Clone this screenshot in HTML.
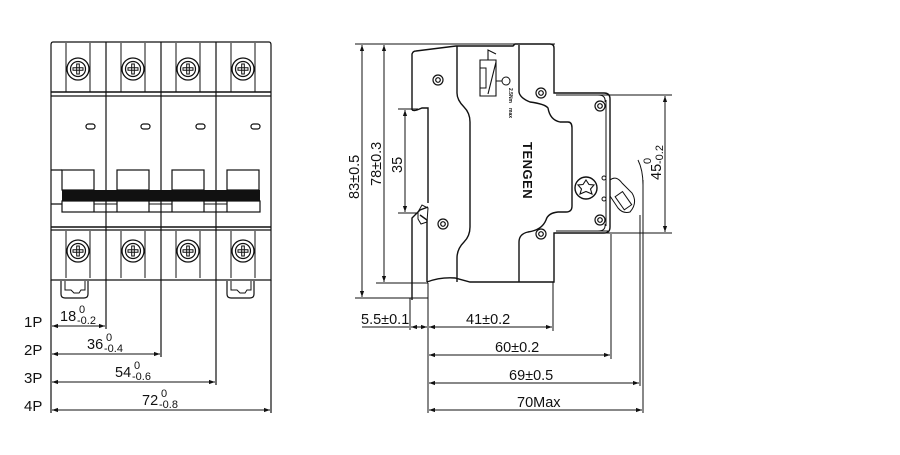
<!DOCTYPE html>
<html><head><meta charset="utf-8"><style>
html,body{margin:0;padding:0;background:#fff;width:900px;height:455px;overflow:hidden}
svg{display:block}
text{font-family:"Liberation Sans",Arial,sans-serif;fill:#111}
</style></head><body>
<svg width="900" height="455" viewBox="0 0 900 455" xmlns="http://www.w3.org/2000/svg">
<defs>
<marker id="a" viewBox="0 0 10 10" refX="10" refY="5" markerWidth="8" markerHeight="6" orient="auto-start-reverse" markerUnits="userSpaceOnUse"><path d="M0,1.5 L10,5 L0,8.5 z" fill="#111"/></marker>
<g id="scr"><circle r="11" fill="none" stroke="#111" stroke-width="1.3"/><circle r="7.5" fill="none" stroke="#111" stroke-width="1.2"/><path d="M-5,-1.3h10v2.6h-10z M-1.3,-5h2.6v10h-2.6z" fill="none" stroke="#111" stroke-width="1"/></g>
<g id="sm"><circle r="5" fill="none" stroke="#111" stroke-width="1.2"/><circle r="2.3" fill="none" stroke="#111" stroke-width="1.2"/></g>
</defs>
<g stroke="#111" fill="none" stroke-width="1.2">
<path d="M53,42 H269 Q271,42 271,45 V280 H51 V45 Q51,42 53,42 Z"/>
<line x1="51" y1="92" x2="271" y2="92" stroke-width="1.5"/>
<line x1="51" y1="96" x2="271" y2="96"/>
<line x1="51" y1="227" x2="271" y2="227" stroke-width="1.5"/>
<line x1="51" y1="230" x2="271" y2="230"/>
<line x1="106" y1="42" x2="106" y2="329"/>
<line x1="161" y1="42" x2="161" y2="357"/>
<line x1="216" y1="42" x2="216" y2="385"/>
<line x1="271" y1="280" x2="271" y2="413"/>
<line x1="51" y1="280" x2="51" y2="413"/>
<g stroke-width="1">
<path d="M66,43 V92 M90,43 V92 M121,43 V92 M145,43 V92 M176,43 V92 M200,43 V92 M231,43 V92 M255,43 V92"/>
<path d="M66,231 V278 M90,231 V278 M121,231 V278 M145,231 V278 M176,231 V278 M200,231 V278 M231,231 V278 M255,231 V278"/>
</g>
<rect x="86" y="124" width="9" height="5" rx="2.5"/>
<rect x="141" y="124" width="9" height="5" rx="2.5"/>
<rect x="196" y="124" width="9" height="5" rx="2.5"/>
<rect x="251" y="124" width="9" height="5" rx="2.5"/>
<path d="M51,170 H62 M51,204 H62"/>
<rect x="62" y="170" width="32" height="20"/>
<rect x="117" y="170" width="32" height="20"/>
<rect x="172" y="170" width="32" height="20"/>
<rect x="227" y="170" width="32" height="20"/>
<rect x="62" y="201" width="198" height="11"/>
<path d="M94,201 V212 M117,201 V212 M149,201 V212 M172,201 V212 M204,201 V212 M227,201 V212"/>
<path d="M94,204 H117 M149,204 H172 M204,204 H227" stroke-width="1"/>
<path d="M61,281 V294 Q61,298 65,298 H84 Q88,298 88,294 V281"/>
<path d="M65,281 V290 H71 L74,293 H79 L81,290 H85 V281" stroke-width="1"/>
<path d="M227,281 V294 Q227,298 231,298 H250 Q254,298 254,294 V281"/>
<path d="M231,281 V290 H237 L240,293 H245 L247,290 H251 V281" stroke-width="1"/>
</g>
<rect x="62" y="190" width="198" height="11" fill="#111"/>
<use href="#scr" x="78" y="69"/><use href="#scr" x="133" y="69"/><use href="#scr" x="188" y="69"/><use href="#scr" x="243" y="69"/>
<use href="#scr" x="78" y="251"/><use href="#scr" x="133" y="251"/><use href="#scr" x="188" y="251"/><use href="#scr" x="243" y="251"/>

<g stroke="#111" stroke-width="1" fill="none">
<line x1="52" y1="326" x2="105" y2="326" marker-start="url(#a)" marker-end="url(#a)"/>
<line x1="52" y1="354" x2="160" y2="354" marker-start="url(#a)" marker-end="url(#a)"/>
<line x1="52" y1="382" x2="215" y2="382" marker-start="url(#a)" marker-end="url(#a)"/>
<line x1="52" y1="410" x2="270" y2="410" marker-start="url(#a)" marker-end="url(#a)"/>
</g>
<g font-size="15">
<text x="24" y="327">1P</text><text x="24" y="355">2P</text><text x="24" y="383">3P</text><text x="24" y="411">4P</text>
</g>
<g font-size="14.5">
<text x="60" y="321">18</text><text x="79" y="313" font-size="11">0</text><text x="77" y="324" font-size="11">-0.2</text>
<text x="87" y="349">36</text><text x="106" y="341" font-size="11">0</text><text x="104" y="352" font-size="11">-0.4</text>
<text x="115" y="377">54</text><text x="134" y="369" font-size="11">0</text><text x="132" y="380" font-size="11">-0.6</text>
<text x="142" y="405">72</text><text x="161" y="397" font-size="11">0</text><text x="159" y="408" font-size="11">-0.8</text>
</g>

<g stroke="#111" fill="none" stroke-width="1.4">
<path d="M427,282 V220 L420,215 M412,110 V54 Q413,51 416,51 L456,46 H513 L515,44 H550 Q554,44 554,48 V93 H604 Q610,93 610,99 V227 Q610,233 604,233 H554 V282 H470 L455,278 Q440,277 427,282"/>
<path d="M412,110 Q414,111 417,110 L422,108 H428 V203"/>
<path d="M428,207 L420,210 L412,218 V300"/>
<path d="M418,212 L422,205 L428,208 L427,222 L421,224 L418,219 Z" stroke-width="1"/>
<path d="M457,46 V93 Q457,100 464,107 Q470,113 470,122 V227 Q470,236 464,242 Q457,249 457,258 V282"/>
<path d="M519,45 V92 Q520,98 530,102 Q545,104 548,108 Q550,120 560,122 H568 Q572,122 572,128 V206 Q572,212 566,212 H558 Q548,213 546,220 Q542,230 528,232 Q519,234 519,242 V282"/>
<path d="M556,95 H608 M556,231 H608" stroke-width="1"/>
<path d="M605,102 Q606,95 598,95 M605,224 Q606,231 598,231" stroke-width="1"/>
<line x1="606" y1="100" x2="606" y2="226" stroke-width="1"/>
</g>
<g stroke="#111" fill="none" stroke-width="1">
<path d="M417,283 H428 M412,298 H428 M412,283 V300" />
<path d="M610,180 Q616,175 622,183 L632,193 Q638,203 630,212 Q623,214 618,208 L610,196"/>
<rect x="619" y="193" width="9" height="16" transform="rotate(-35 623 201)"/>
<path d="M480,60 H496 V96 H480 Z M488,60 V50 L496,54 M496,62 L488,94" stroke-width="1.1"/>
<rect x="480" y="68" width="6" height="20" fill="none"/>
<circle cx="506" cy="81" r="4"/>
<path d="M496,81 H502"/>
</g>
<use href="#sm" x="438" y="80"/><use href="#sm" x="443" y="224"/>
<use href="#sm" x="541" y="93"/><use href="#sm" x="541" y="234"/>
<use href="#sm" x="600" y="106"/><use href="#sm" x="600" y="220"/>
<circle cx="586" cy="188" r="11" fill="none" stroke="#111" stroke-width="1.4"/>
<path d="M586,180 L589,184.5 L594,185 L590.5,189 L592,194 L586,191.5 L580,194 L581.5,189 L578,185 L583,184.5 Z" fill="none" stroke="#111" stroke-width="1.1"/>
<circle cx="604" cy="178" r="2" fill="none" stroke="#111"/><circle cx="604" cy="199" r="2" fill="none" stroke="#111"/>
<text x="0" y="0" font-size="13" font-weight="bold" transform="translate(523,142) rotate(90)" letter-spacing="0.5">TENGEN</text>
<text x="0" y="0" font-size="5" font-weight="bold" transform="translate(509,88) rotate(90)">2.5Nm</text>
<text x="0" y="0" font-size="5" font-weight="bold" transform="translate(509,108) rotate(90)">max</text>

<g stroke="#111" stroke-width="1" fill="none">
<line x1="355" y1="44" x2="555" y2="44"/>
<line x1="355" y1="298" x2="412" y2="298"/>
<line x1="376" y1="283" x2="418" y2="283"/>
<line x1="398" y1="109" x2="418" y2="109"/>
<line x1="398" y1="213" x2="418" y2="213"/>
<line x1="556" y1="95" x2="672" y2="95"/>
<line x1="556" y1="233" x2="672" y2="233"/>
<line x1="362" y1="45" x2="362" y2="297" marker-start="url(#a)" marker-end="url(#a)"/>
<line x1="384" y1="45" x2="384" y2="282" marker-start="url(#a)" marker-end="url(#a)"/>
<line x1="405" y1="110" x2="405" y2="212" marker-start="url(#a)" marker-end="url(#a)"/>
<line x1="665" y1="96" x2="665" y2="232" marker-start="url(#a)" marker-end="url(#a)"/>
<line x1="410" y1="298" x2="410" y2="330"/>
<line x1="428" y1="283" x2="428" y2="413"/>
<line x1="553" y1="282" x2="553" y2="331"/>
<line x1="611" y1="234" x2="611" y2="359"/>
<line x1="640" y1="215" x2="640" y2="386"/>
<line x1="643" y1="180" x2="643" y2="413"/>
<path d="M638,160 Q643,170 643,185"/>
<line x1="362" y1="327" x2="409" y2="327"/>
<line x1="411" y1="327" x2="427" y2="327" marker-start="url(#a)" marker-end="url(#a)"/>
<line x1="429" y1="327" x2="552" y2="327" marker-start="url(#a)" marker-end="url(#a)"/>
<line x1="429" y1="355" x2="610" y2="355" marker-start="url(#a)" marker-end="url(#a)"/>
<line x1="429" y1="383" x2="639" y2="383" marker-start="url(#a)" marker-end="url(#a)"/>
<line x1="429" y1="410" x2="642" y2="410" marker-start="url(#a)" marker-end="url(#a)"/>
</g>
<g font-size="14.5">
<text x="361" y="324">5.5±0.1</text>
<text x="466" y="324">41±0.2</text>
<text x="495" y="352">60±0.2</text>
<text x="509" y="380">69±0.5</text>
<text x="517" y="407">70Max</text>
<text transform="translate(359,199) rotate(-90)">83±0.5</text>
<text transform="translate(381,186) rotate(-90)">78±0.3</text>
<text transform="translate(402,173) rotate(-90)">35</text>
<text transform="translate(661,180) rotate(-90)">45</text>
<text transform="translate(651,164) rotate(-90)" font-size="11">0</text>
<text transform="translate(663,164) rotate(-90)" font-size="11">-0.2</text>
</g>
</svg>
</body></html>
